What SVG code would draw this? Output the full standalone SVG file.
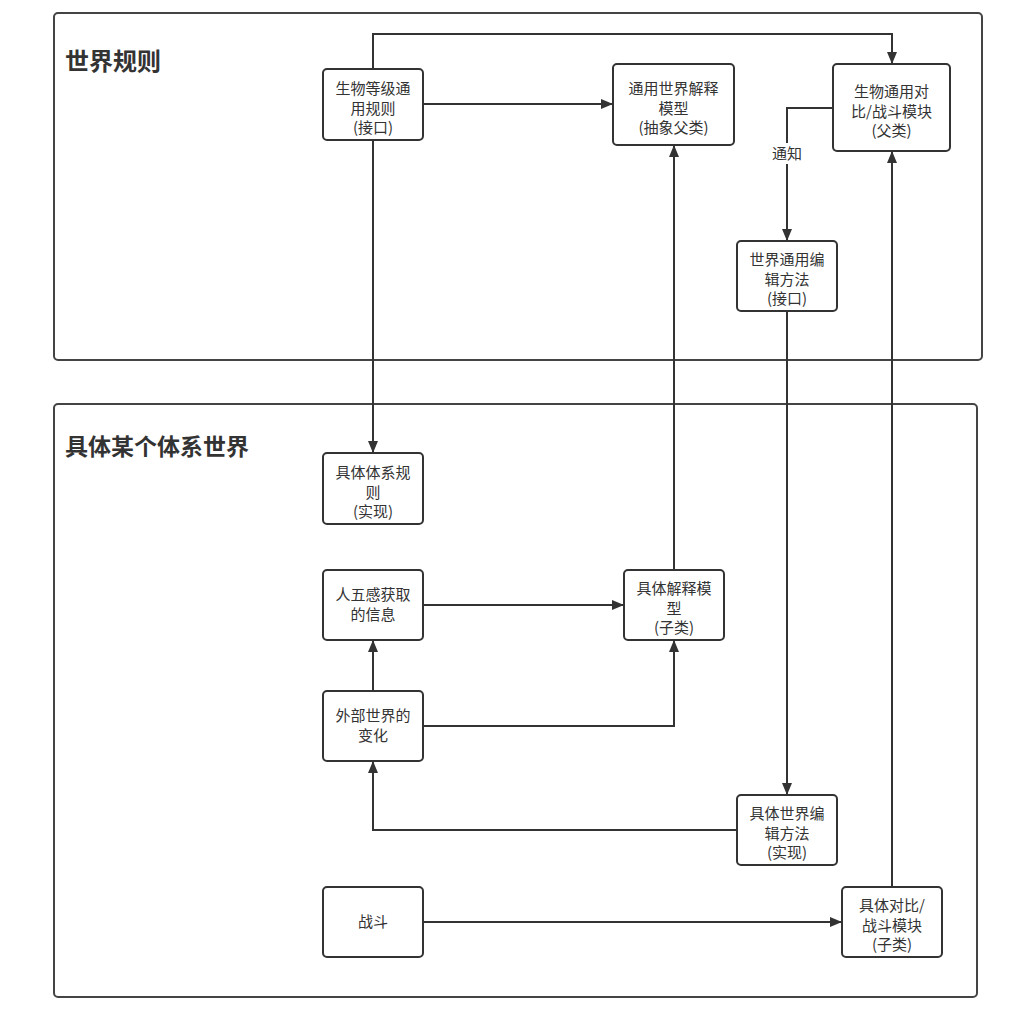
<svg xmlns="http://www.w3.org/2000/svg" width="1033" height="1022" viewBox="0 0 1033 1022">
<style>
.container{fill:#fff;stroke:#444;stroke-width:2}
.node rect{fill:#fff;stroke:#333;stroke-width:2}
.node text, .lbl{font-family:"Noto Sans CJK SC","Noto Sans",sans-serif;font-size:15px;fill:#333;text-anchor:middle}
.title{font-family:"Noto Sans CJK SC","Noto Sans",sans-serif;font-weight:bold;fill:#333}
.conn{fill:none;stroke:#333;stroke-width:2}
</style>
<defs>
<marker id="arr" viewBox="0 0 12 10" refX="12" refY="5" markerWidth="12" markerHeight="10" markerUnits="userSpaceOnUse" orient="auto">
<path d="M0,0 L12,5 L0,10 Z" fill="#333"/>
</marker>
</defs>
<rect width="1033" height="1022" fill="#fff"/>
<g id="container-world-rules">
<rect class="container" x="54" y="13" width="928" height="347" rx="4"/>
<text class="title" x="65" y="70" font-size="24">世界规则</text>
</g>
<g id="container-specific-world">
<rect class="container" x="54" y="404" width="923" height="593" rx="4"/>
<text class="title" x="65" y="455" font-size="23">具体某个体系世界</text>
</g>
<g id="connectors">
<path class="conn" d="M373,69 V34 H892 V64" marker-end="url(#arr)"/>
<path class="conn" d="M423,104 H613" marker-end="url(#arr)"/>
<path class="conn" d="M833,108 H787 V241" marker-end="url(#arr)"/>
<path class="conn" d="M373,140 V453" marker-end="url(#arr)"/>
<path class="conn" d="M674,570 V145" marker-end="url(#arr)"/>
<path class="conn" d="M892,887 V151" marker-end="url(#arr)"/>
<path class="conn" d="M787,311 V795" marker-end="url(#arr)"/>
<path class="conn" d="M423,605 H624" marker-end="url(#arr)"/>
<path class="conn" d="M423,726 H674 V640" marker-end="url(#arr)"/>
<path class="conn" d="M373,691 V640" marker-end="url(#arr)"/>
<path class="conn" d="M737,830 H373 V761" marker-end="url(#arr)"/>
<path class="conn" d="M423,922 H842" marker-end="url(#arr)"/>
<rect x="768" y="143" width="38" height="21" fill="#fff"/>
<text class="lbl" x="787" y="158.5">通知</text>
</g>
<g id="node-creature-rules" class="node">
<rect x="323" y="69" width="100" height="71" rx="4"/>
<text x="373" y="94">生物等级通</text>
<text x="373" y="113.5">用规则</text>
<text x="373" y="133">(接口)</text>
</g>
<g id="node-general-model" class="node">
<rect x="613" y="64" width="121" height="81" rx="4"/>
<text x="673.5" y="94">通用世界解释</text>
<text x="673.5" y="113.5">模型</text>
<text x="673.5" y="133">(抽象父类)</text>
</g>
<g id="node-general-battle" class="node">
<rect x="833" y="64" width="117" height="87" rx="4"/>
<text x="891.5" y="97">生物通用对</text>
<text x="891.5" y="116.5">比/战斗模块</text>
<text x="891.5" y="136">(父类)</text>
</g>
<g id="node-general-edit" class="node">
<rect x="737" y="241" width="100" height="70" rx="4"/>
<text x="787" y="265">世界通用编</text>
<text x="787" y="284.5">辑方法</text>
<text x="787" y="304">(接口)</text>
</g>
<g id="node-specific-rules" class="node">
<rect x="323" y="453" width="100" height="71" rx="4"/>
<text x="373" y="478">具体体系规</text>
<text x="373" y="497.5">则</text>
<text x="373" y="517">(实现)</text>
</g>
<g id="node-senses" class="node">
<rect x="323" y="570" width="100" height="70" rx="4"/>
<text x="373" y="600">人五感获取</text>
<text x="373" y="619.5">的信息</text>
</g>
<g id="node-specific-model" class="node">
<rect x="624" y="570" width="100" height="70" rx="4"/>
<text x="674" y="594">具体解释模</text>
<text x="674" y="613.5">型</text>
<text x="674" y="633">(子类)</text>
</g>
<g id="node-external-change" class="node">
<rect x="323" y="691" width="100" height="70" rx="4"/>
<text x="373" y="721">外部世界的</text>
<text x="373" y="740.5">变化</text>
</g>
<g id="node-specific-edit" class="node">
<rect x="737" y="795" width="100" height="70" rx="4"/>
<text x="787" y="819">具体世界编</text>
<text x="787" y="838.5">辑方法</text>
<text x="787" y="858">(实现)</text>
</g>
<g id="node-battle" class="node">
<rect x="323" y="887" width="100" height="70" rx="4"/>
<text x="373" y="927">战斗</text>
</g>
<g id="node-specific-battle" class="node">
<rect x="842" y="887" width="100" height="70" rx="4"/>
<text x="892" y="911">具体对比/</text>
<text x="892" y="930.5">战斗模块</text>
<text x="892" y="950">(子类)</text>
</g>
</svg>
